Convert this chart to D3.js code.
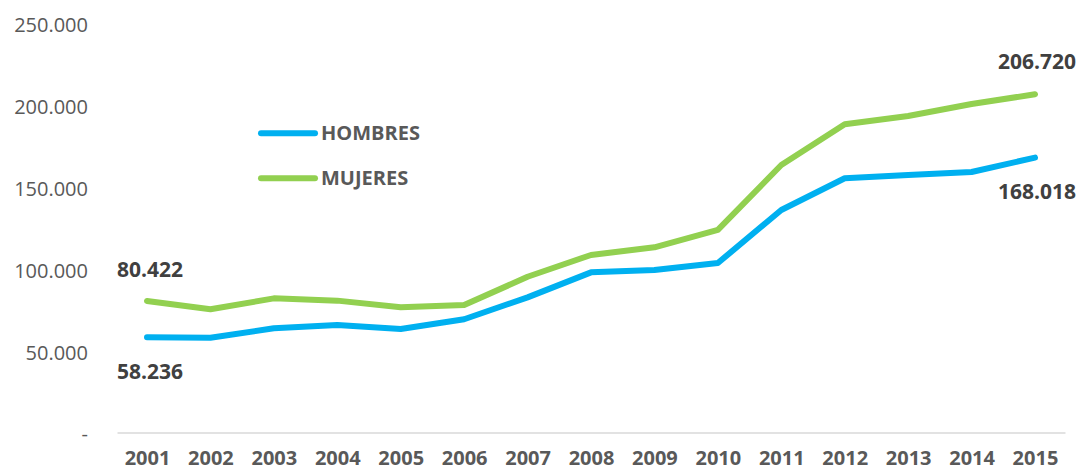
<!DOCTYPE html>
<html>
<head>
<meta charset="utf-8">
<script src="https://cdn.jsdelivr.net/npm/d3@7"></script>
<style>
    body { margin: 0; background: #ffffff; }
    text { font-family: "Open Sans", sans-serif; }
</style>
</head>
<body>
<div id="chart-area"></div>
<script>
var width = 1079;
var height = 471;

var years = ["2001", "2002", "2003", "2004", "2005", "2006", "2007", "2008",
    "2009", "2010", "2011", "2012", "2013", "2014", "2015"];
var hombres = [58236, 57900, 63700, 65700, 63300, 69200, 82600, 97900,
    99300, 103600, 136000, 155400, 157400, 159200, 168018];
var mujeres = [80422, 75300, 82000, 80600, 76500, 77900, 95200, 108500,
    113200, 123800, 163500, 188400, 193500, 200800, 206720];
var yTicks = [0, 50000, 100000, 150000, 200000, 250000];

var series = [
    { name: "HOMBRES", values: hombres, color: "#00B0F0" },
    { name: "MUJERES", values: mujeres, color: "#92D050" }
];

var locale = d3.formatLocale({ decimal: ",", thousands: ".", grouping: [3], currency: ["", ""] });
var fmt = locale.format(",d");

var svg = d3.select("#chart-area").append("svg")
    .attr("width", width)
    .attr("height", height);

var x = d3.scalePoint()
    .domain(years)
    .range([117, 1065])
    .padding(0.473);

var y = d3.scaleLinear()
    .domain([0, 250000])
    .range([432.5, 23.5]);

// y axis labels only
var yAxis = svg.append("g")
    .attr("transform", "translate(88,0)")
    .call(d3.axisLeft(y)
        .tickValues(yTicks)
        .tickSize(0)
        .tickPadding(0)
        .tickFormat(function(d) { return d === 0 ? "-" : fmt(d); }));
yAxis.select(".domain").remove();
yAxis.selectAll("text")
    .attr("dy", "0.42em")
    .attr("fill", "#595959")
    .style("font-size", "20px")
    .style("font-family", "'Open Sans', sans-serif");

// x axis
var xAxis = svg.append("g")
    .attr("transform", "translate(0," + y(0) + ")")
    .call(d3.axisBottom(x)
        .tickSize(0)
        .tickSizeOuter(0)
        .tickPadding(18));
xAxis.select(".domain")
    .attr("stroke", "#d9d9d9")
    .attr("stroke-width", 1.5);
xAxis.selectAll("text")
    .attr("fill", "#595959")
    .style("font-size", "20px")
    .style("font-weight", "bold")
    .style("font-family", "'Open Sans', sans-serif");

var line = d3.line()
    .x(function(d, i) { return x(years[i]); })
    .y(function(d) { return y(d); });

svg.selectAll(".serie")
    .data(series)
    .enter()
    .append("path")
    .attr("class", "serie")
    .attr("d", function(d) { return line(d.values); })
    .attr("fill", "none")
    .attr("stroke", function(d) { return d.color; })
    .attr("stroke-width", 6)
    .attr("stroke-linecap", "round")
    .attr("stroke-linejoin", "round");

// data labels at first and last point
var labels = [
    { v: mujeres[0], i: 0, dy: -24 },
    { v: hombres[0], i: 0, dy: 42 },
    { v: mujeres[14], i: 14, dy: -25 },
    { v: hombres[14], i: 14, dy: 41 }
];
svg.selectAll(".dlabel")
    .data(labels)
    .enter()
    .append("text")
    .attr("class", "dlabel")
    .attr("x", function(d) { return d.i === 0 ? x(years[0]) - 30 : x(years[14]) - 37; })
    .attr("y", function(d) { return y(d.v) + d.dy; })
    .attr("fill", "#404040")
    .style("font-size", "21px")
    .style("font-weight", "bold")
    .text(function(d) { return fmt(d.v); });

// legend
var legend = svg.selectAll(".legend")
    .data(series)
    .enter()
    .append("g")
    .attr("class", "legend")
    .attr("transform", function(d, i) { return "translate(261," + (133.3 + i * 45) + ")"; });
legend.append("line")
    .attr("x1", 0).attr("x2", 54)
    .attr("y1", 0).attr("y2", 0)
    .attr("stroke", function(d) { return d.color; })
    .attr("stroke-width", 6)
    .attr("stroke-linecap", "round");
legend.append("text")
    .attr("x", 60)
    .attr("y", 7)
    .attr("fill", "#595959")
    .style("font-size", "20px")
    .style("font-weight", "bold")
    .text(function(d) { return d.name; });
</script>
</body>
</html>
